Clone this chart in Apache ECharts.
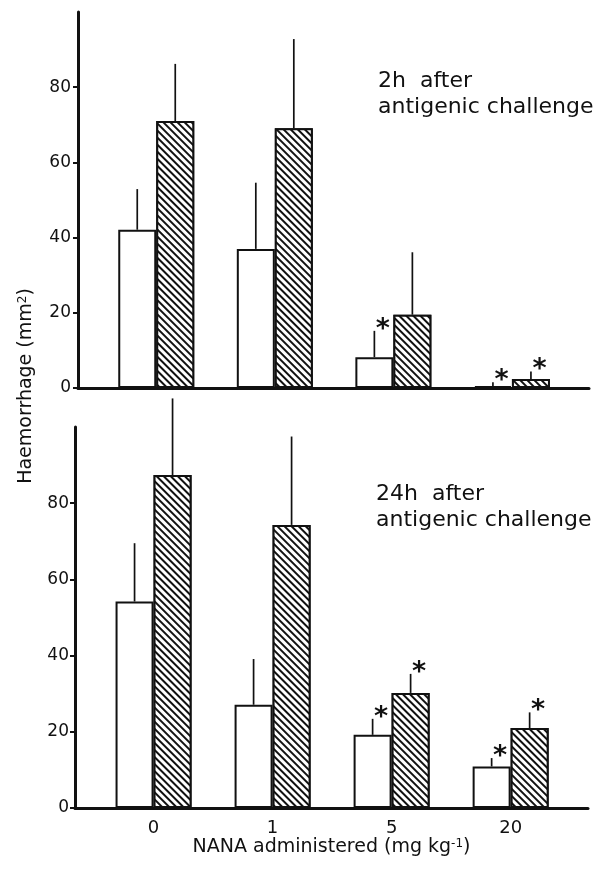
<!DOCTYPE html>
<html>
<head>
<meta charset="utf-8">
<script src="https://cdn.jsdelivr.net/npm/echarts@6/dist/echarts.min.js"></script>
<style>
  html, body { margin: 0; padding: 0; background: #fff; }
  #chart { width: 599px; height: 878px; }
</style>
</head>
<body>
<div id="chart"></div>
<script>
// ---- data ----
const doses = ['0', '1', '5', '20'];
const yTicks = [0, 20, 40, 60, 80];

// 2 h after antigenic challenge
const h2Plain = [42.1, 37.0, 8.2, 0.5];
const h2PlainSE = [10.8, 17.6, 7.0, 1.0];
const h2PlainSig = [0, 0, 1, 1];
const h2Hatched = [71.0, 69.1, 19.5, 2.4];
const h2HatchedSE = [15.2, 23.7, 16.6, 2.0];
const h2HatchedSig = [0, 0, 0, 1];

// 24 h after antigenic challenge
const h24Plain = [54.2, 27.1, 19.2, 10.9];
const h24PlainSE = [15.3, 12.0, 4.2, 2.2];
const h24PlainSig = [0, 0, 1, 1];
const h24Hatched = [87.4, 74.3, 30.2, 21.0];
const h24HatchedSE = [20.1, 23.2, 5.0, 4.1];
const h24HatchedSig = [0, 0, 1, 1];

// ---- styling ----
const FONT = 'DejaVu Sans';
const INK = '#111';
const BAR_W = 38;

const hatchDecal = {
  symbol: 'rect',
  symbolSize: 1,
  dashArrayX: [1, 0],
  dashArrayY: [2, 3],
  rotation: Math.PI / 4,
  color: INK,
  backgroundColor: '#fff'
};

function barSeries(values, idx, hatched) {
  return {
    type: 'bar',
    xAxisIndex: idx, yAxisIndex: idx,
    barWidth: BAR_W,
    barGap: '0%',
    data: values.map((v, i) => [i, v]),
    itemStyle: Object.assign({
      color: '#fff',
      borderColor: INK,
      borderWidth: 2
    }, hatched ? { decal: hatchDecal } : {}),
    emphasis: { disabled: true },
    silent: true,
    z: 2
  };
}

function errSeries(values, se, sig, idx, side) {
  return {
    type: 'custom',
    xAxisIndex: idx, yAxisIndex: idx,
    clip: false,
    silent: true,
    z: 3,
    data: values.map((v, i) => [i, v, se[i], sig[i]]),
    renderItem: function (params, api) {
      const i = api.value(0), v = api.value(1), e = api.value(2), s = api.value(3);
      const base = api.coord([i, v]);
      const top = api.coord([i, v + e]);
      const x = base[0] + side * BAR_W / 2;
      const children = [{
        type: 'line',
        shape: { x1: x, y1: base[1], x2: x, y2: top[1] },
        style: { stroke: INK, lineWidth: 1.7 }
      }];
      if (s) {
        children.push({
          type: 'text',
          x: x + 8.5, y: top[1] - 1,
          style: { text: '*', font: 'bold 27px "' + FONT + '"', fill: INK, align: 'center', verticalAlign: 'middle' }
        });
      }
      return { type: 'group', children: children };
    }
  };
}

function xAxisCfg(idx, showLabels) {
  return {
    type: 'value',
    gridIndex: idx,
    min: -0.66, max: 3.65,
    splitLine: { show: false },
    axisTick: { show: false },
    axisLine: { show: true, onZero: true, lineStyle: { color: INK, width: 3 } },
    axisLabel: showLabels ? {
      show: true,
      customValues: [0, 1, 2, 3],
      formatter: v => doses[Math.round(v)],
      fontFamily: FONT, fontSize: 18, color: INK, margin: 11
    } : { show: false },
    name: showLabels ? 'NANA administered (mg kg{s|-1})' : '',
    nameLocation: 'middle',
    nameGap: 29,
    nameTextStyle: {
      fontFamily: FONT, fontSize: 19, color: INK,
      rich: { s: { fontFamily: FONT, fontSize: 12, color: INK, verticalAlign: 'top', lineHeight: 12 } }
    }
  };
}

function yAxisCfg(idx, margin) {
  return {
    type: 'value',
    gridIndex: idx,
    min: 0, max: 100, interval: 20,
    splitLine: { show: false },
    axisLine: { show: true, onZero: false, lineStyle: { color: INK, width: 3 } },
    axisTick: { show: true, length: 5, customValues: yTicks, lineStyle: { color: INK, width: 2 } },
    axisLabel: { customValues: yTicks, fontFamily: FONT, fontSize: 17, color: INK, margin: margin }
  };
}

const chart = echarts.init(document.getElementById('chart'), null, { renderer: 'canvas' });

chart.setOption({
  backgroundColor: '#fff',
  animation: false,
  grid: [
    { left: 78, right: 10, top: 12, height: 376 },
    { left: 75, right: 11, top: 427, height: 381 }
  ],
  xAxis: [xAxisCfg(0, false), xAxisCfg(1, true)],
  yAxis: [yAxisCfg(0, 7), yAxisCfg(1, 6)],
  series: [
    barSeries(h2Plain, 0, false),
    barSeries(h2Hatched, 0, true),
    errSeries(h2Plain, h2PlainSE, h2PlainSig, 0, -1),
    errSeries(h2Hatched, h2HatchedSE, h2HatchedSig, 0, 1),
    barSeries(h24Plain, 1, false),
    barSeries(h24Hatched, 1, true),
    errSeries(h24Plain, h24PlainSE, h24PlainSig, 1, -1),
    errSeries(h24Hatched, h24HatchedSE, h24HatchedSig, 1, 1)
  ],
  graphic: [
    {
      type: 'text', x: 26, y: 386, rotation: Math.PI / 2,
      style: {
        text: '{a|Haemorrhage (mm}{s|2}{a|)}',
        align: 'center', verticalAlign: 'middle', fill: INK,
        rich: {
          a: { fontFamily: FONT, fontSize: 19, fill: INK, verticalAlign: 'bottom' },
          s: { fontFamily: FONT, fontSize: 12, fill: INK, verticalAlign: 'top' }
        }
      }
    },
    { type: 'text', x: 378, y: 81, style: { text: '2h  after', font: '22px "' + FONT + '"', fill: INK, align: 'left', verticalAlign: 'middle' } },
    { type: 'text', x: 378, y: 107, style: { text: 'antigenic challenge', font: '22px "' + FONT + '"', fill: INK, align: 'left', verticalAlign: 'middle' } },
    { type: 'text', x: 376, y: 494, style: { text: '24h  after', font: '22px "' + FONT + '"', fill: INK, align: 'left', verticalAlign: 'middle' } },
    { type: 'text', x: 376, y: 520, style: { text: 'antigenic challenge', font: '22px "' + FONT + '"', fill: INK, align: 'left', verticalAlign: 'middle' } }
  ]
});
</script>
</body>
</html>
